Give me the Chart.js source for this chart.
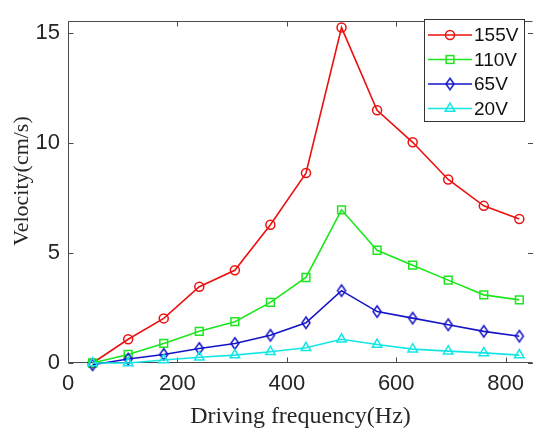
<!DOCTYPE html>
<html><head><meta charset="utf-8">
<script src="https://cdn.jsdelivr.net/npm/chart.js@4"></script>
<style>html,body{margin:0;padding:0;overflow:hidden;background:#fff}canvas{display:block}</style>
</head><body>
<canvas id="c" width="540" height="429"></canvas>
<script>
const frequency = [45,110,175,240,305,370,435,500,565,630,695,760,825];
const v155 = [0.0,1.08,2.03,3.47,4.22,6.29,8.64,15.26,11.5,10.04,8.35,7.15,6.55];
const v110 = [0.0,0.39,0.89,1.44,1.88,2.76,3.89,6.97,5.13,4.45,3.77,3.1,2.87];
const v65  = [-0.08,0.18,0.39,0.66,0.89,1.26,1.83,3.29,2.34,2.04,1.74,1.44,1.22];
const v20  = [0.0,0.0,0.14,0.26,0.36,0.51,0.69,1.08,0.84,0.63,0.54,0.46,0.36];
const seriesLabels = ['155V','110V','65V','20V'];
const xTicks = [0,200,400,600,800];
const yTicks = [0,5,10,15];
const xTitle = 'Driving frequency(Hz)';
const yTitle = 'Velocity(cm/s)';

const colors = ['#ec1010','#1ee61e','#1414c8','#14e6e6'];
const AXIS = '#4a4a4a', TXT = '#262626';

function diamondImg(color){
  const c=document.createElement('canvas');c.width=12;c.height=15;
  const g=c.getContext('2d');g.strokeStyle=color;g.lineWidth=1.5;
  g.beginPath();g.moveTo(6,1.8);g.lineTo(10,7.5);g.lineTo(6,13.2);g.lineTo(2,7.5);g.closePath();g.stroke();
  return c;
}
const dia = diamondImg(colors[2]);
const styles = ['circle','rect',dia,'triangle'];
const radii = [4.5,5.5,5,5.5];
const vals = [v155,v110,v65,v20];

const datasets = vals.map((v,i)=>({
  label: seriesLabels[i],
  data: frequency.map((f,j)=>({x:f,y:v[j]})),
  borderColor: colors[i],
  backgroundColor: 'rgba(0,0,0,0)',
  pointBackgroundColor: 'rgba(0,0,0,0)',
  pointBorderColor: colors[i],
  pointBorderWidth: 1.5,
  borderWidth: 1.6,
  pointStyle: styles[i],
  pointRadius: radii[i],
  tension: 0,
  clip: false,
  order: 3 - i
}));

function drawMarker(ctx, i, x, y){
  ctx.save();
  ctx.strokeStyle = colors[i]; ctx.lineWidth = 1.5;
  if (i===0){ ctx.beginPath(); ctx.arc(x,y,4.5,0,Math.PI*2); ctx.stroke(); }
  else if (i===1){ const s=5.5*Math.SQRT1_2; ctx.strokeRect(x-s,y-s,2*s,2*s); }
  else if (i===2){ ctx.drawImage(dia, x-dia.width/2, y-dia.height/2); }
  else { const r=5.5; ctx.beginPath(); ctx.moveTo(x,y-r); ctx.lineTo(x+r*Math.sin(2*Math.PI/3),y-r*Math.cos(2*Math.PI/3)); ctx.lineTo(x+r*Math.sin(4*Math.PI/3),y-r*Math.cos(4*Math.PI/3)); ctx.closePath(); ctx.stroke(); }
  ctx.restore();
}

const framePlugin = {
  id:'frame',
  beforeDatasetsDraw(chart){
    const {ctx, chartArea:a, scales:{x, y}} = chart;
    ctx.save();
    ctx.strokeStyle = AXIS; ctx.lineWidth = 1;
    const L=Math.round(a.left)+0.5, R=Math.round(a.right)-0.5, T=Math.round(a.top)+0.5, B=Math.round(a.bottom)-0.5;
    ctx.beginPath();
    ctx.moveTo(R,T); ctx.lineTo(L,T); ctx.lineTo(L,B); ctx.lineTo(R,B);
    const tl = 5;
    xTicks.forEach(v=>{ const px=Math.round(x.getPixelForValue(v))+0.5; ctx.moveTo(px,B); ctx.lineTo(px,B-tl); ctx.moveTo(px,T); ctx.lineTo(px,T+tl); });
    yTicks.forEach(v=>{ const py=Math.round(y.getPixelForValue(v))+0.5; ctx.moveTo(L,py); ctx.lineTo(L+tl,py); ctx.moveTo(533,py); ctx.lineTo(528,py); });
    ctx.stroke();
    ctx.restore();
  },
  afterDraw(chart){
    const ctx = chart.ctx;
    ctx.save();
    // y-axis title
    ctx.translate(22,181);
    ctx.rotate(-Math.PI/2);
    ctx.font='22px "Liberation Serif", "Times New Roman", serif';
    ctx.fillStyle=TXT; ctx.textAlign='center'; ctx.textBaseline='middle';
    ctx.fillText(yTitle,0,0);
    ctx.restore();
    ctx.save();
    ctx.fillStyle='#fff'; ctx.fillRect(424.5,19.5,100,102);
    ctx.strokeStyle='#333'; ctx.lineWidth=1; ctx.strokeRect(424.5,19.5,100,102);
    const rows=[35,59.5,84,108.5];
    ctx.font='19px "Liberation Sans", Arial, sans-serif';
    ctx.textBaseline='middle'; ctx.textAlign='left';
    seriesLabels.forEach((lab,i)=>{
      const yy=rows[i];
      ctx.strokeStyle=colors[i]; ctx.lineWidth=1.6;
      ctx.beginPath(); ctx.moveTo(428,yy); ctx.lineTo(472,yy); ctx.stroke();
      drawMarker(ctx,i,450,yy);
      ctx.fillStyle='#111'; ctx.fillText(lab,474,yy+1);
    });
    ctx.restore();
  }
};

new Chart(document.getElementById('c'), {
  type:'line',
  data:{datasets},
  options:{
    responsive:false, animation:false, devicePixelRatio:1,
    layout:{padding:{top:17,right:4.5,left:0,bottom:0}},
    plugins:{legend:{display:false}, tooltip:{enabled:false}},
    scales:{
      x:{type:'linear', min:0, max:850,
        grid:{display:false, drawTicks:false}, border:{display:false},
        afterFit(s){ s.height = 66; },
        afterBuildTicks(s){ s.ticks = xTicks.map(v=>({value:v})); },
        ticks:{font:{family:'"Liberation Sans", Arial, sans-serif', size:22}, color:TXT, padding:8, maxRotation:0, autoSkip:false},
        title:{display:true, text:xTitle, color:TXT, font:{family:'"Liberation Serif", "Times New Roman", serif', size:24, lineHeight:1}, padding:{top:0,bottom:0}}
      },
      y:{type:'linear', min:0, max:15.55,
        grid:{display:false, drawTicks:false}, border:{display:false},
        afterFit(s){ s.width = 68; },
        afterBuildTicks(s){ s.ticks = yTicks.map(v=>({value:v})); },
        ticks:{font:{family:'"Liberation Sans", Arial, sans-serif', size:22}, color:TXT, padding:8, autoSkip:false},
        title:{display:false}
      }
    }
  },
  plugins:[framePlugin]
});
</script>
</body></html>
